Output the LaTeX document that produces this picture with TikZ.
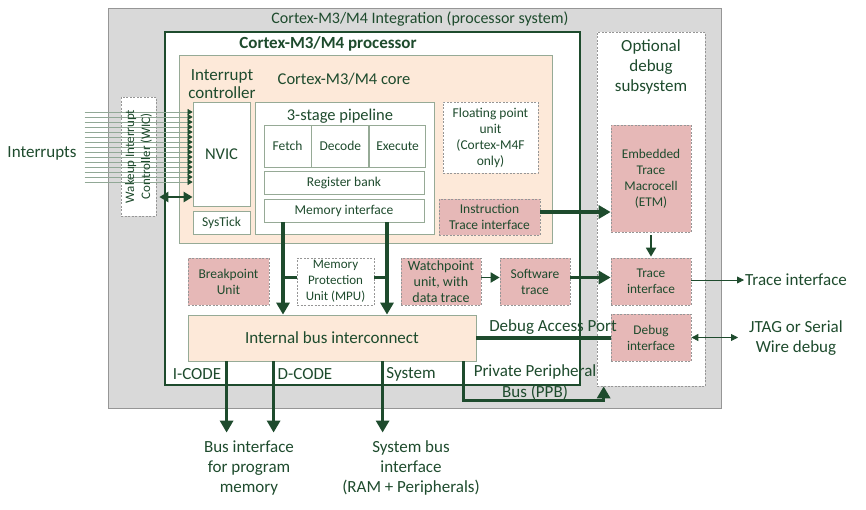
\documentclass[tikz,border=0pt]{standalone}
\usepackage{fontspec}
\setmainfont{Carlito}
\usetikzlibrary{arrows.meta, positioning, calc}

\definecolor{dkgreen}{RGB}{30,75,45}
\definecolor{sysgray}{RGB}{217,217,217}
\definecolor{peach}{RGB}{253,233,217}
\definecolor{rosy}{RGB}{230,184,183}
\definecolor{edgegray}{RGB}{150,150,150}
\definecolor{coreedge}{RGB}{150,170,150}
\definecolor{irqline}{RGB}{145,168,150}

\begin{document}
\begin{tikzpicture}[
        x=1pt, y=-1pt,
        text=dkgreen,
        font=\fontsize{17}{20}\selectfont,
        sysbox/.style={rectangle, draw=edgegray, line width=0.8pt, fill=sysgray},
        procbox/.style={rectangle, draw=dkgreen, line width=2.8pt, fill=white},
        corebox/.style={rectangle, draw=coreedge, line width=0.8pt, fill=peach},
        unit/.style={rectangle, draw=coreedge, line width=0.8pt, fill=white, inner sep=0pt,
                     align=center, font=\fontsize{13.5}{16}\selectfont},
        opt/.style={rectangle, draw=edgegray, line width=0.7pt, dash pattern=on 2pt off 1.5pt,
                    fill=white, inner sep=0pt, align=center, font=\fontsize{13.5}{16}\selectfont},
        dbg/.style={opt, fill=rosy},
        lbl/.style={inner sep=1pt, align=center},
        bus/.style={draw=dkgreen, line width=3.2pt, -{Triangle[length=12pt,width=13pt]}},
        busline/.style={draw=dkgreen, line width=3.2pt},
        wicarr/.style={draw=dkgreen, line width=2.4pt,
                       {Triangle[length=9pt,width=10pt]}-{Triangle[length=9pt,width=10pt]}},
        medarr/.style={draw=dkgreen, line width=1.8pt, -{Triangle[length=9pt,width=10pt]}},
        thinarr/.style={draw=dkgreen, line width=0.8pt, -{Triangle[length=7pt,width=7pt]}},
        thindbl/.style={draw=dkgreen, line width=0.8pt,
                        {Triangle[length=7pt,width=7pt]}-{Triangle[length=7pt,width=7pt]}},
        irq/.style={draw=irqline, line width=0.45pt, -{Triangle[length=5pt,width=6pt,color=dkgreen]}}
    ]
    \useasboundingbox (0,0) rectangle (866,509);

    % Integration and processor frames
    \node[sysbox, minimum width=613pt, minimum height=400pt] (integ) at (414.5,208) {};
    \node[lbl, font=\fontsize{16}{20}\selectfont] (integT) at (420,19) {Cortex-M3/M4 Integration (processor system)};
    \node[procbox, minimum width=415pt, minimum height=353pt] (proc) at (372.5,208.5) {};
    \node[lbl, font=\fontsize{17}{20}\selectfont\bfseries] (procT) at (328,44) {Cortex-M3/M4 processor};
    \node[opt, minimum width=108pt, minimum height=354pt] (debugsub) at (651,209) {};
    \node[lbl] (debugT) at (651,67) {Optional\\debug\\subsystem};

    % Core
    \node[corebox, minimum width=373pt, minimum height=188pt] (core) at (365.5,149) {};
    \node[lbl, font=\fontsize{16.5}{20}\selectfont] (coreT) at (344,79) {Cortex-M3/M4 core};
    \node[lbl, font=\fontsize{17}{18}\selectfont] (intcT) at (222,84) {Interrupt\\controller};
    \node[unit, minimum width=57pt, minimum height=104pt, font=\fontsize{16.5}{20}\selectfont] (nvic) at (221.5,154) {NVIC};
    \node[unit, minimum width=57pt, minimum height=23pt] (systick) at (221.5,222.5) {SysTick};
    \node[unit, minimum width=179pt, minimum height=132pt] (pipe) at (344.5,168) {};
    \node[lbl, font=\fontsize{16.5}{20}\selectfont] (pipeT) at (340,116) {3-stage pipeline};
    \node[unit, minimum width=47pt, minimum height=42pt] (fetch) at (287.5,146) {Fetch};
    \node[unit, minimum width=57pt, minimum height=42pt, right=0pt of fetch] (decode) {Decode};
    \node[unit, minimum width=56pt, minimum height=42pt, right=0pt of decode] (execute) {Execute};
    \node[unit, minimum width=160pt, minimum height=23pt] (regbank) at (344,182.5) {Register bank};
    \node[unit, minimum width=160pt, minimum height=23pt] (memif) at (344,210.5) {Memory interface};
    \node[opt, minimum width=95pt, minimum height=71pt] (fpu) at (490.5,137.5) {Floating point\\unit\\(Cortex-M4F\\only)};
    \node[dbg, minimum width=101pt, minimum height=36pt] (itrace) at (489.5,217) {Instruction\\Trace interface};

    % Debug subsystem blocks
    \node[dbg, minimum width=80pt, minimum height=107pt, font=\fontsize{13.3}{16}\selectfont] (etm) at (651,178.5) {Embedded\\Trace\\Macrocell\\(ETM)};
    \node[dbg, minimum width=80pt, minimum height=47pt, font=\fontsize{13.3}{16}\selectfont] (trif) at (651,281.5) {Trace\\interface};
    \node[dbg, minimum width=80pt, minimum height=47pt, font=\fontsize{13.3}{16}\selectfont] (dbgif) at (651,337.5) {Debug\\interface};

    % Lower row and bus
    \node[dbg, minimum width=81pt, minimum height=47pt] (bpu) at (228.5,281.5) {Breakpoint\\Unit};
    \node[opt, minimum width=77pt, minimum height=47pt, font=\fontsize{13}{16}\selectfont] (mpu) at (335.5,281.5) {Memory\\Protection\\Unit (MPU)};
    \node[dbg, minimum width=80pt, minimum height=47pt, font=\fontsize{14}{16}\selectfont] (wpu) at (441,281.5) {Watchpoint\\unit, with\\data trace};
    \node[dbg, minimum width=70pt, minimum height=47pt] (swt) at (535,281.5) {Software\\trace};
    \node[corebox, minimum width=288pt, minimum height=46pt, font=\fontsize{17}{20}\selectfont] (ibus) at (332,338) {Internal bus interconnect};

    % WIC and interrupt inputs
    \node[opt, minimum width=35pt, minimum height=119pt] (wic) at (138.5,156.5) {};
    \node[lbl] (irqT) at (42,153) {Interrupts};
    \foreach \i in {0,...,14}
        \draw[irq] ([xshift=-108pt, yshift={(42-5*\i)*1pt}]nvic.west) -- ([yshift={(42-5*\i)*1pt}]nvic.west);
    \node[lbl, rotate=90, font=\fontsize{13}{16}\selectfont] (wicT) at (wic.center) {Wakeup Interrupt\\Controller (WIC)};
    \coordinate (wicio) at ([yshift=-43pt]nvic.west);
    \draw[wicarr, shorten <=3pt] (wicio -| wic.east) -- (wicio);

    % Memory interface -> bus, MPU taps
    \coordinate (memL) at ([xshift=-61pt]memif.south);
    \coordinate (memR) at ([xshift=43pt]memif.south);
    \draw[bus] (memL) -- (memL |- ibus.north);
    \draw[bus] (memR) -- (memR |- ibus.north);
    \draw[busline] ([yshift=4pt]mpu.west) -- ([yshift=4pt]mpu.west -| memL);
    \draw[busline] ([yshift=4pt]mpu.east) -- ([yshift=4pt]mpu.east -| memR);

    % Trace paths
    \draw[bus] ([yshift=5pt]itrace.east) -- ([yshift=5pt]itrace.east -| etm.west);
    \draw[medarr, shorten <=3pt, shorten >=1pt] (etm.south) -- (trif.north);
    \draw[medarr] ([yshift=4pt]wpu.east) -- ([yshift=4pt]swt.west);
    \draw[bus] ([yshift=4pt]swt.east) -- ([yshift=4pt]trif.west);

    % Debug access port
    \draw[busline] (ibus.east) -- (ibus.east -| dbgif.west);
    \node[lbl] (dapT) at (553,327) {Debug Access Port};

    % External trace and debug
    \node[lbl, anchor=west] (trout) at (744,280) {Trace interface};
    \draw[thinarr] ([yshift=1.5pt]trif.east) -- ([yshift=1.5pt]trif.east -| trout.west);
    \node[lbl, anchor=west] (jtag) at (748,338) {JTAG or Serial\\Wire debug};
    \draw[thindbl, shorten >=10pt] (dbgif.east) -- (dbgif.east -| jtag.west);

    % Bus outputs
    \node[lbl] (progmem) at (249,468) {Bus interface\\for program\\memory};
    \node[lbl] (sysmem) at (411,468) {System bus\\interface\\(RAM + Peripherals)};
    \coordinate (icode) at ([xshift=39pt]ibus.south west);
    \coordinate (dcode) at ([xshift=86pt]ibus.south west);
    \coordinate (sysbus) at ([xshift=195pt]ibus.south west);
    \draw[bus, shorten >=7pt] (icode) -- (icode |- progmem.north);
    \draw[bus, shorten >=7pt] (dcode) -- (dcode |- progmem.north);
    \draw[bus, shorten >=7pt] (sysbus) -- (sysbus |- sysmem.north);
    \node[lbl] (icodeT) at (197,374) {I-CODE};
    \node[lbl] (dcodeT) at (305,374) {D-CODE};
    \node[lbl] (sysT) at (411,374) {System};

    % Private peripheral bus
    \draw[bus] ([xshift=-13pt]ibus.south east) |- ([xshift=7pt, yshift=-14pt]debugsub.south west)
        -- ([xshift=7pt]debugsub.south west);
    \node[lbl, font=\fontsize{17}{21}\selectfont] (ppbT) at (535,382.5) {Private Peripheral\\Bus (PPB)};

\end{tikzpicture}
\end{document}
